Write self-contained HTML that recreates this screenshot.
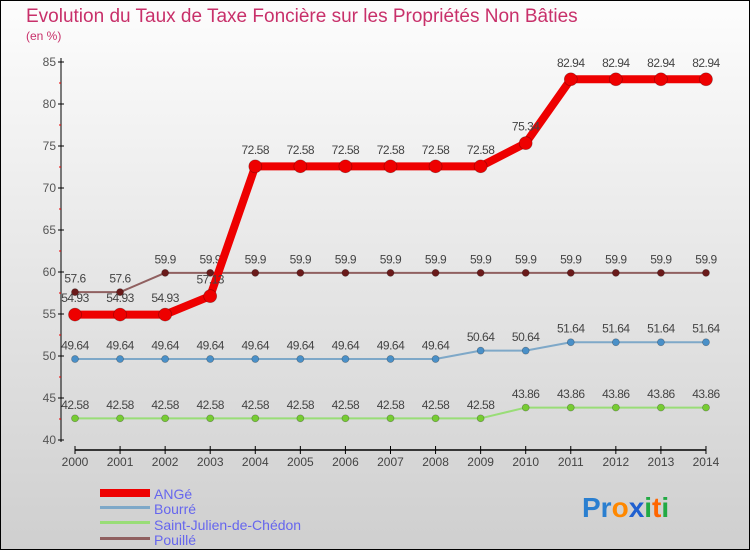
<!DOCTYPE html>
<html><head><meta charset="utf-8"><style>
html,body{margin:0;padding:0}
body{width:750px;height:550px;overflow:hidden;font-family:"Liberation Sans",sans-serif}
svg text{font-family:"Liberation Sans",sans-serif}
</style></head><body>
<svg id="chart" width="750" height="550" xmlns="http://www.w3.org/2000/svg">
<defs><linearGradient id="bg" x1="0" y1="0" x2="0" y2="1"><stop offset="0" stop-color="#fdfdfd"/><stop offset="1" stop-color="#cfcfcf"/></linearGradient></defs>
<rect x="0.5" y="0.5" width="749" height="549" fill="url(#bg)" stroke="#000"/>
<text x="26" y="22" font-size="19" fill="#c8306a">Evolution du Taux de Taxe Foncière sur les Propriétés Non Bâties</text>
<text x="26" y="40" font-size="12" fill="#c8306a">(en %)</text>
<g id="axes"></g><g id="series"></g>
<g>
<rect x="100" y="489" width="50" height="8" fill="#e00"/>
<text x="154" y="499" font-size="14" fill="#6666ee">ANGé</text>
<rect x="100" y="506" width="50" height="3" fill="#7ea8c8"/>
<text x="154" y="514" font-size="14" fill="#6666ee">Bourré</text>
<rect x="100" y="521" width="50" height="3" fill="#99dd77"/>
<text x="154" y="530" font-size="14" fill="#6666ee">Saint-Julien-de-Chédon</text>
<rect x="100" y="537" width="50" height="3" fill="#906060"/>
<text x="154" y="545" font-size="14" fill="#6666ee">Pouillé</text>
</g>
<text x="582" y="517" font-size="28" font-weight="bold"><tspan fill="#2a7fd0">Pr</tspan><tspan fill="#ff8800">o</tspan><tspan fill="#2060d0">x</tspan><tspan fill="#22aa44">i</tspan><tspan fill="#ff6600">t</tspan><tspan fill="#22aa44">i</tspan></text>
</svg>
<script>
const years=[2000,2001,2002,2003,2004,2005,2006,2007,2008,2009,2010,2011,2012,2013,2014];
const yTicks=[40,45,50,55,60,65,70,75,80,85];
const ange=[54.93,54.93,54.93,57.13,72.58,72.58,72.58,72.58,72.58,72.58,75.34,82.94,82.94,82.94,82.94];
const bourre=[49.64,49.64,49.64,49.64,49.64,49.64,49.64,49.64,49.64,50.64,50.64,51.64,51.64,51.64,51.64];
const saintJulien=[42.58,42.58,42.58,42.58,42.58,42.58,42.58,42.58,42.58,42.58,43.86,43.86,43.86,43.86,43.86];
const pouille=[57.6,57.6,59.9,59.9,59.9,59.9,59.9,59.9,59.9,59.9,59.9,59.9,59.9,59.9,59.9];
const NS="http://www.w3.org/2000/svg";
const x=i=>75+i*45.07;
const y=v=>440-(v-40)*8.4;
function mk(p,t,a){const e=document.createElementNS(NS,t);for(const k in a)e.setAttribute(k,a[k]);p.appendChild(e);return e;}
const ax=document.getElementById('axes');
let l=mk(ax,'line',{x1:61,y1:58,x2:61,y2:442,stroke:'#000','stroke-width':1});


yTicks.forEach(v=>{
 const t=mk(ax,'line',{x1:58,x2:64,y1:y(v),y2:y(v),stroke:'#000'});
 
 
 const m=mk(ax,'line',{x1:59,x2:61,y1:y(v+2.5),y2:y(v+2.5),stroke:'#e00'});
 if(v===85)m.remove();
 const tx=mk(ax,'text',{x:56,y:y(v)+4,'font-size':12,fill:'#555','text-anchor':'end'});tx.textContent=v;
 
 
});
l=mk(ax,'line',{x1:75,y1:450,x2:706,y2:450,stroke:'#000','stroke-width':1.5});


years.forEach((yr,i)=>{
 const t=mk(ax,'line',{x1:x(i),x2:x(i),y1:446,y2:454,stroke:'#000'});
 
 
 const tx=mk(ax,'text',{x:x(i),y:466,'font-size':12,fill:'#444','text-anchor':'middle'});tx.textContent=yr;
 
 
});
const sg=document.getElementById('series');
function draw(data,name,col,lw,r,mcol){
 const g=mk(sg,'g',{});
 
 
 const pl=mk(g,'polyline',{points:data.map((v,i)=>x(i)+','+y(v)).join(' '),fill:'none',stroke:col,'stroke-width':lw,'stroke-linejoin':'round'});
 
 
 data.forEach((v,i)=>{
  const c=mk(g,'circle',{cx:x(i),cy:y(v),r:r,fill:mcol,stroke:'rgba(0,0,0,0.3)','stroke-width':0.7});
  
  
  const t=mk(g,'text',{x:x(i),y:y(v)-(r+6),'font-size':12,fill:'#444','text-anchor':'middle','letter-spacing':'-0.5'});
  t.textContent=v.toFixed(2).replace(/\.?0+$/,'');
  if(t.textContent.indexOf('.')<0&&String(v).indexOf('.')>=0)t.textContent=String(v);
  
  
 });
}
draw(saintJulien,'saint-julien','#99dd77',2,3.5,'#77cc33');
draw(bourre,'bourre','#7ea8c8',2,3.5,'#4a90c8');
draw(pouille,'pouille','#906060',2,3.5,'#6a1a1a');
draw(ange,'ange','#ee0000',8,6.5,'#ee0000');
</script>
</body></html>
